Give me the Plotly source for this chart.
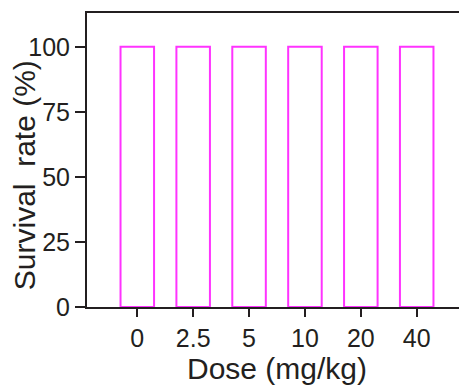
import plotly.graph_objects as go

doses = ["0", "2.5", "5", "10", "20", "40"]
survival = [100, 100, 100, 100, 100, 100]
y_ticks = [0, 25, 50, 75, 100]

font_family = "Liberation Sans, Arial, sans-serif"
axis_color = "#231f20"

fig = go.Figure(go.Bar(
    x=list(range(len(doses))),
    y=survival,
    width=0.6,
    marker=dict(color="rgba(255,255,255,0)", line=dict(color="#ff33ff", width=2)),
))

# page body has an 8px margin, so the figure is offset by 8px
fig.update_layout(
    width=459, height=384,
    margin=dict(l=79, r=0, t=5, b=85),
    paper_bgcolor="white", plot_bgcolor="white",
    showlegend=False,
    font=dict(family=font_family, size=25, color=axis_color),
    annotations=[dict(
        text="Survival\u00a0 rate (%)", textangle=-90,
        xref="paper", yref="paper", x=-0.166, y=0.448,
        xanchor="center", yanchor="middle", showarrow=False, borderpad=0,
        font=dict(size=30, color=axis_color, family=font_family),
    )],
)
fig.update_xaxes(
    range=[-0.9, 5.9], automargin=False,
    tickvals=list(range(len(doses))), ticktext=doses,
    showline=True, linecolor=axis_color, linewidth=2, mirror=True,
    ticks="outside", ticklen=8, tickwidth=2, tickcolor=axis_color,
    showgrid=False, zeroline=False,
    tickfont=dict(size=25),
    title=dict(text="Dose (mg/kg)", font=dict(size=30), standoff=5),
)
fig.update_yaxes(
    range=[0, 113], automargin=False,
    tickvals=y_ticks,
    showline=True, linecolor=axis_color, linewidth=2,
    ticks="outside", ticklen=10, tickwidth=2, tickcolor=axis_color,
    showgrid=False, zeroline=False,
    tickfont=dict(size=25),
)

fig.write_html("out.html")
